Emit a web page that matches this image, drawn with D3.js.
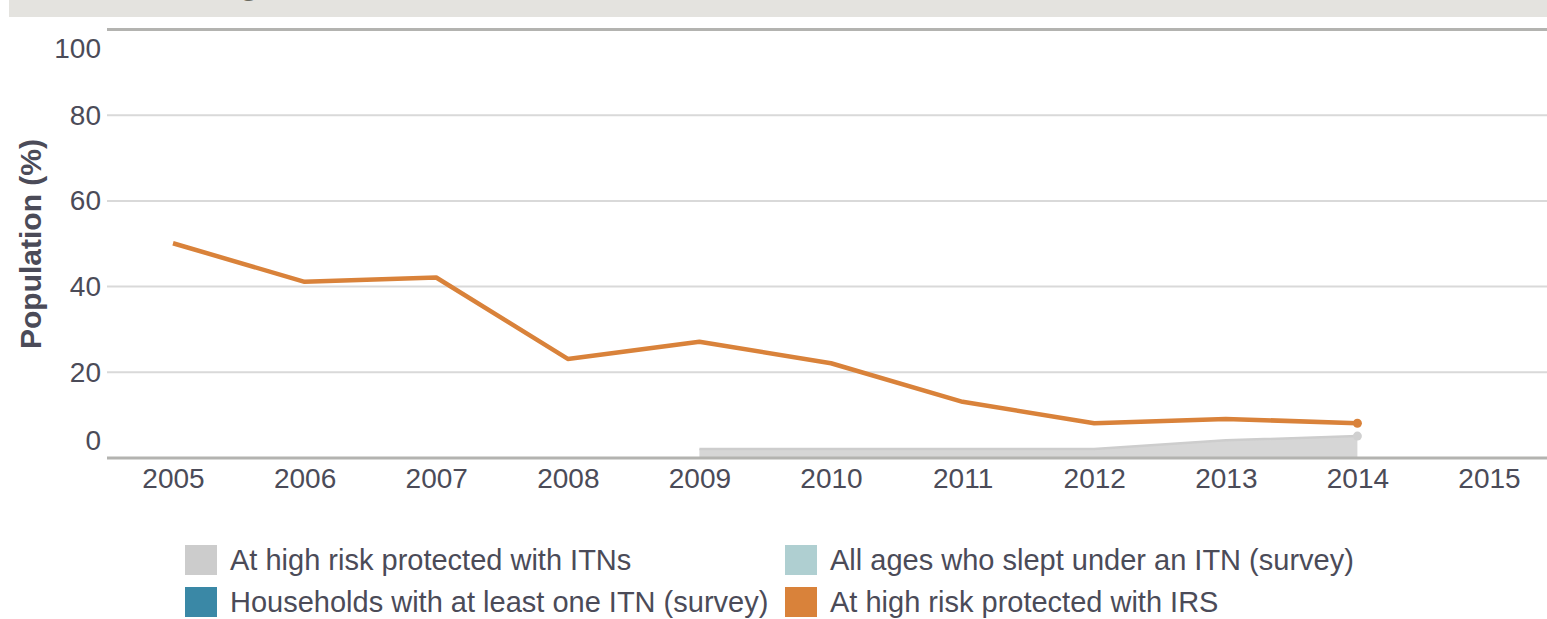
<!DOCTYPE html>
<html><head><meta charset="utf-8">
<script src="https://cdn.jsdelivr.net/npm/d3@7"></script>
<style>
html,body{margin:0;padding:0;background:#fff;}
svg{display:block;font-family:"Liberation Sans",Arial,sans-serif;}
</style></head>
<body>
<svg id="chart" width="1547" height="619"></svg>
<script>
const years = [2005,2006,2007,2008,2009,2010,2011,2012,2013,2014,2015];
const irsYears = [2005,2006,2007,2008,2009,2010,2011,2012,2013,2014];
const irsValues = [50,41,42,23,27,22,13,8,9,8];
const itnYears = [2009,2010,2011,2012,2013,2014];
const itnValues = [2,2,2,2,4,5];
const yTicks = [0,20,40,60,80,100];
const legendLabels = ["At high risk protected with ITNs","All ages who slept under an ITN (survey)","Households with at least one ITN (survey)","At high risk protected with IRS"];
const legendColors = ["#cccccc","#afcfd1","#3a88a6","#d9823a"];

const svg = d3.select("#chart");
const textColor = "#4b4b58";
const L = 107, R = 1547, T = 29, B = 457.5;

// header band (cropped title)
svg.append("defs").append("clipPath").attr("id","hdr").append("rect").attr("x",9).attr("y",0).attr("width",1538).attr("height",17);
svg.append("rect").attr("x",9).attr("y",0).attr("width",1538).attr("height",17).attr("fill","#e4e3df");
svg.append("g").attr("clip-path","url(#hdr)").append("text")
  .attr("x",240).attr("y",-5).attr("font-size",30).attr("font-weight","bold").attr("fill","#6b6a5f").text("g");

const x = d3.scaleLinear().domain([2005,2015]).range([173,1489]);
const y = d3.scaleLinear().domain([0,100]).range([B,T]);

// gridlines
const grid = svg.append("g").attr("transform",`translate(${L},0)`)
  .call(d3.axisLeft(y).tickValues(yTicks).tickSize(-(R-L)).tickFormat(""));
grid.select(".domain").remove();
grid.selectAll(".tick line").attr("stroke",d=> (d===100) ? "#b3b3b0" : "#d9d9d9")
  .attr("stroke-width",d=> (d===100) ? 3 : 2);
grid.selectAll(".tick").filter(d=>d===0).remove();

// y labels
const yax = svg.append("g").attr("transform",`translate(${L},0)`)
  .call(d3.axisLeft(y).tickValues(yTicks).tickSize(0).tickPadding(6));
yax.select(".domain").remove();
yax.selectAll(".tick text").attr("font-size",28).attr("fill",textColor)
  .attr("font-family","'Liberation Sans',Arial,sans-serif")
  .attr("dy",d=> d===100 ? "1.0em" : d===0 ? "-0.28em" : "0.34em");

// ITN area
const area = d3.area().x((d,i)=>x(itnYears[i])).y0(y(0)).y1(d=>y(d));
svg.append("path").datum(itnValues).attr("d",area).attr("fill","#d6d6d6");
svg.append("path").datum(itnValues)
  .attr("d",d3.line().x((d,i)=>x(itnYears[i])).y(d=>y(d)))
  .attr("fill","none").attr("stroke","#cdcdcd").attr("stroke-width",2.5);
svg.append("circle").attr("cx",x(itnYears[itnYears.length-1])).attr("cy",y(itnValues[itnValues.length-1]))
  .attr("r",4.5).attr("fill","#d0d0d0");

// bottom axis line
svg.append("line").attr("x1",L).attr("x2",R).attr("y1",B+0.5).attr("y2",B+0.5)
  .attr("stroke","#b3b3b0").attr("stroke-width",3);

// x axis labels
const xax = svg.append("g").attr("transform",`translate(0,${B})`)
  .call(d3.axisBottom(x).tickValues(years).tickFormat(d3.format("d")).tickSize(0).tickPadding(11));
xax.select(".domain").remove();
xax.selectAll(".tick text").attr("font-size",28).attr("fill",textColor)
  .attr("font-family","'Liberation Sans',Arial,sans-serif");

// IRS line
svg.append("path").datum(irsValues)
  .attr("d",d3.line().x((d,i)=>x(irsYears[i])).y(d=>y(d)))
  .attr("fill","none").attr("stroke","#d9823a").attr("stroke-width",4.5).attr("stroke-linejoin","round");
svg.append("circle").attr("cx",x(irsYears[irsYears.length-1])).attr("cy",y(irsValues[irsValues.length-1]))
  .attr("r",4.5).attr("fill","#d9823a");

// y title
svg.append("text").attr("transform","translate(41,244) rotate(-90)")
  .attr("text-anchor","middle").attr("font-size",30).attr("font-weight","bold")
  .attr("fill",textColor).text("Population (%)");

// legend
const lg = svg.append("g");
legendLabels.forEach((lab,i)=>{
  const col = i%2, row = Math.floor(i/2);
  const gx = 185 + col*600, gy = 545 + row*42;
  lg.append("rect").attr("x",gx).attr("y",gy).attr("width",32).attr("height",30).attr("fill",legendColors[i]);
  lg.append("text").attr("x",gx+45).attr("y",gy+15).attr("dy","0.35em")
    .attr("font-size",29).attr("fill",textColor).text(lab);
});
</script>
</body></html>
